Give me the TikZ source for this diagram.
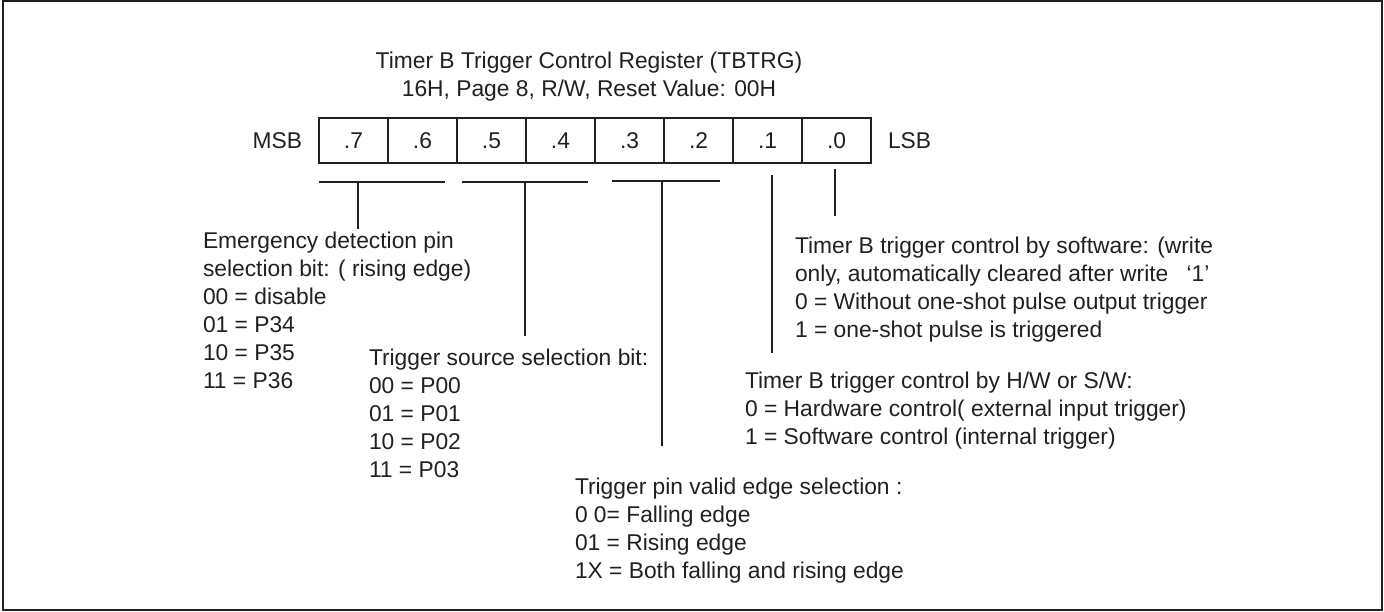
\documentclass[tikz,border=0pt]{standalone}
\usepackage{fontspec}
\setmainfont{Liberation Sans}
\usepackage{tikz}
\usetikzlibrary{positioning}
\definecolor{ink}{HTML}{231F20}
\tikzset{
  txt/.style={font=\fontsize{22.8}{28}\selectfont, text=ink, inner sep=0pt, outer sep=0pt},
  desc/.style={txt, align=left, anchor=north west},
  cell/.style={txt, draw=ink, line width=1.6pt, minimum width=69pt, minimum height=45pt},
  lead/.style={draw=ink, line width=1.1pt},
}

\begin{document}
\begin{tikzpicture}[x=1pt,y=-1pt]
    \useasboundingbox (0,0) rectangle (1384,612);

    % Frame
    \draw[ink, line width=2pt] (3,1) rectangle (1382,610);

    % Title
    \node[txt, align=center, anchor=north] (title) at (589,52)
        {Timer B Trigger Control Register (TBTRG)\\16H, Page 8, R/W, Reset Value: 00H};

    % Register bits
    \node[cell] (b7) at (353.5,140.5) {.7};
    \node[cell, right=0pt of b7] (b6) {.6};
    \node[cell, right=0pt of b6] (b5) {.5};
    \node[cell, right=0pt of b5] (b4) {.4};
    \node[cell, right=0pt of b4] (b3) {.3};
    \node[cell, right=0pt of b3] (b2) {.2};
    \node[cell, right=0pt of b2] (b1) {.1};
    \node[cell, right=0pt of b1] (b0) {.0};
    \node[txt, left=17pt of b7] (msb) {MSB};
    \node[txt, right=17pt of b0] (lsb) {LSB};

    % Points
    \coordinate (s76) at (319,182);
    \coordinate (e76) at (445,182);
    \coordinate (m76) at (358,182);
    \coordinate (t76) at (358,229);
    \coordinate (s54) at (462,182);
    \coordinate (e54) at (588,182);
    \coordinate (m54) at (525,182);
    \coordinate (t54) at (525,336);
    \coordinate (s32) at (612,181);
    \coordinate (e32) at (720,181);
    \coordinate (m32) at (662,181);
    \coordinate (t32) at (662,446);
    \coordinate (m1) at (772,175);
    \coordinate (t1) at (772,353);
    \coordinate (m0) at (835,169);
    \coordinate (t0) at (835,216);

    % Brackets
    \draw[lead] (s76) -- (e76);
    \draw[lead] (m76) -- (t76);
    \draw[lead] (s54) -- (e54);
    \draw[lead] (m54) -- (t54);
    \draw[lead] (s32) -- (e32);
    \draw[lead] (m32) -- (t32);
    \draw[lead] (m1) -- (t1);
    \draw[lead] (m0) -- (t0);

    % Descriptions
    \node[desc] (emerg) at (203,231.5) {Emergency detection pin\\selection bit: ( rising edge)\\00 = disable\\01 = P34\\10 = P35\\11 = P36};
    \node[desc] (tsrc) at (369,348.5) {Trigger source selection bit:\\00 = P00\\01 = P01\\10 = P02\\11 = P03};
    \node[desc] (tpin) at (575,478) {Trigger pin valid edge selection :\\0 0= Falling edge\\01 = Rising edge\\1X = Both falling and rising edge};
    \node[desc] (hwsw) at (745,371.5) {Timer B trigger control by H/W or S/W:\\0 = Hardware control( external input trigger)\\1 = Software control (internal trigger)};
    \node[desc] (soft) at (795,236.5) {Timer B trigger control by software: (write\\only, automatically cleared after write\hspace{0.8em}‘1’\\0 = Without one-shot pulse output trigger\\1 = one-shot pulse is triggered};
\end{tikzpicture}
\end{document}
